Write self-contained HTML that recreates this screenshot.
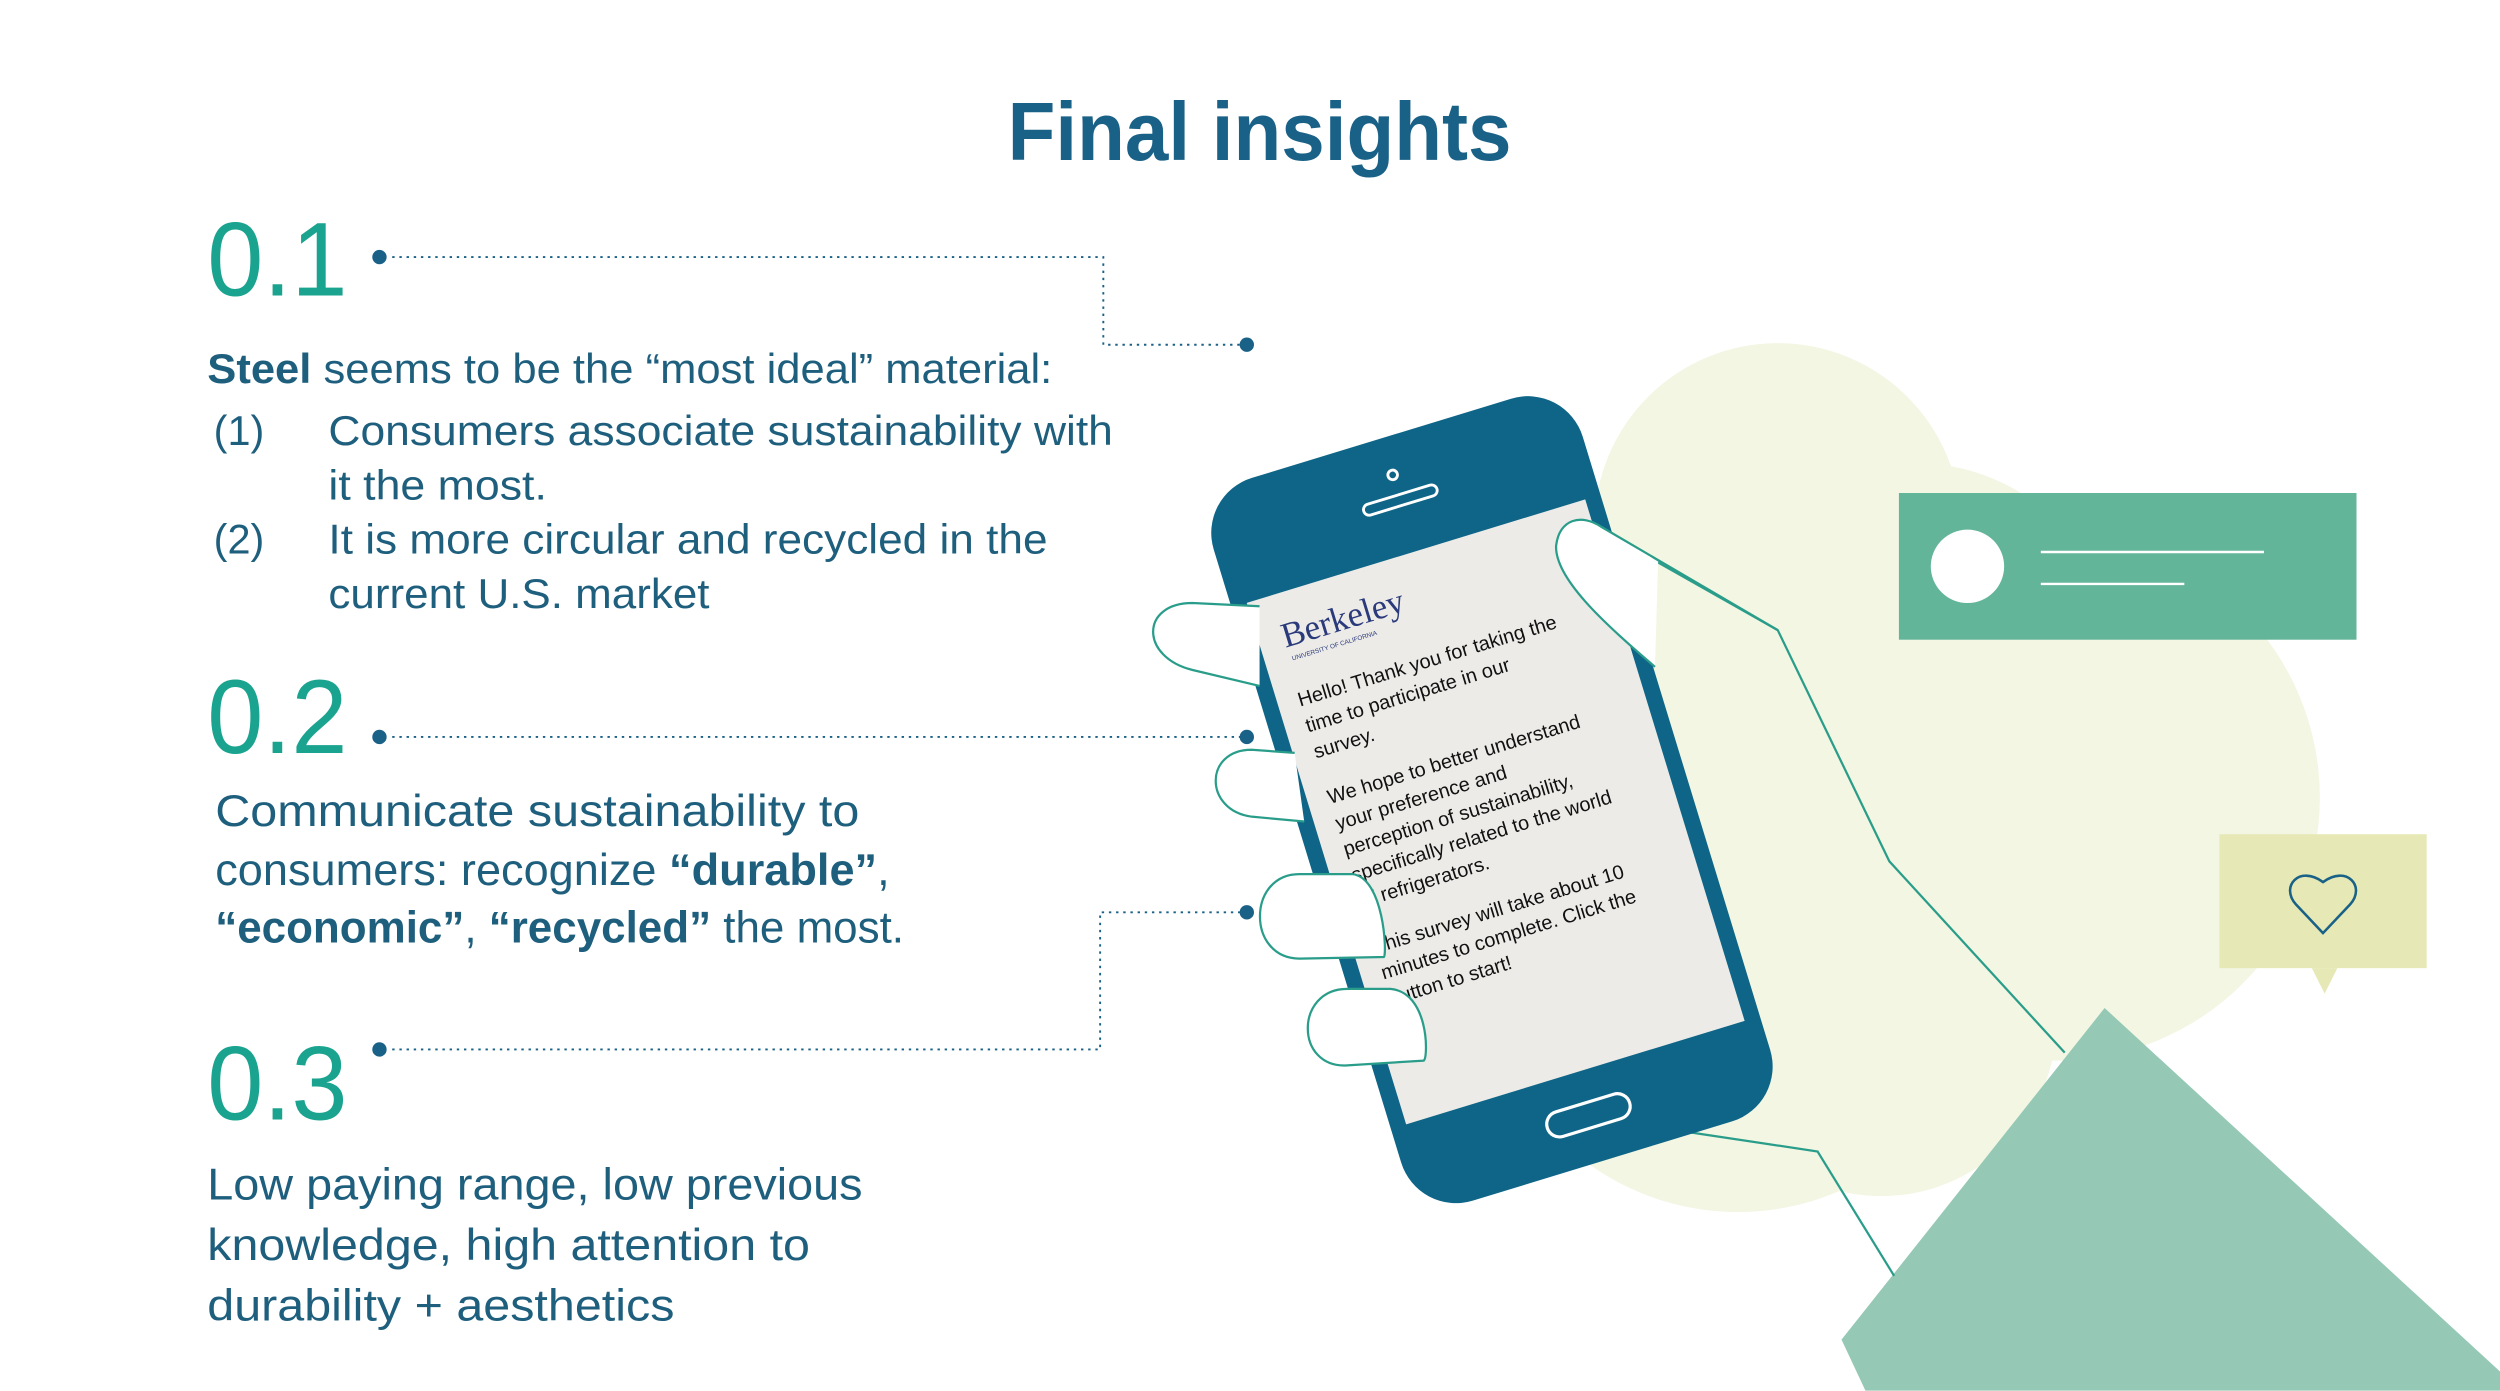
<!DOCTYPE html>
<html><head><meta charset="utf-8"><style>
html,body{margin:0;padding:0;background:#fff;}
svg{display:block;}
</style></head><body>
<svg width="2500" height="1391" viewBox="0 0 1568 872" xmlns="http://www.w3.org/2000/svg" font-family="Liberation Sans, sans-serif">
<rect width="1568" height="872" fill="#fff"/>
<g fill="#f2f6e2">
<circle cx="1115" cy="330" r="115"/>
<circle cx="1290" cy="500" r="165"/>
<circle cx="1090" cy="600" r="160"/>
<circle cx="1200" cy="420" r="130"/>
<circle cx="1180" cy="640" r="110"/>
<circle cx="1110" cy="460" r="110"/>
</g>
<polygon points="1155,840 1320,632 1568,860 1568,872 1170,872" fill="#95c8b5"/>
<rect x="1191" y="309" width="287" height="92" fill="#63b59a"/>
<circle cx="1234" cy="355" r="23" fill="#fff"/>
<line x1="1280" y1="346" x2="1420" y2="346" stroke="#fff" stroke-width="1.5"/>
<line x1="1280" y1="366" x2="1370" y2="366" stroke="#fff" stroke-width="1.5"/>
<rect x="1392" y="523" width="130" height="84" fill="#e6e9b5"/>
<polygon points="1450,607 1466,607 1458,623" fill="#e6e9b5"/>
<path d="M1457,585 L1440,567 C1430,556 1442,542 1457,553 C1472,542 1484,556 1474,567 Z" fill="none" stroke="#1a6187" stroke-width="1.6"/>
<path d="M1000,330 L1115,395 L1185,540 L1295,660" fill="none" stroke="#2a9d8a" stroke-width="1.4"/>
<path d="M1060,710 L1140,722 L1188,800" fill="none" stroke="#2a9d8a" stroke-width="1.4"/>
<g transform="rotate(-17 937 502)">
<rect x="815" y="264" width="242" height="474" rx="36" fill="#0e6587"/>
<rect x="825" y="338" width="222" height="342" fill="#ecebe8"/>
<circle cx="936" cy="288" r="3" fill="none" stroke="#fff" stroke-width="1.8"/>
<rect x="912" y="301" width="48" height="7" rx="3.5" fill="none" stroke="#fff" stroke-width="1.8"/>
<rect x="909" y="700" width="54" height="16" rx="8" fill="none" stroke="#fff" stroke-width="2"/>
<text x="840" y="372" style="font-family:'Liberation Serif',serif" font-size="22" fill="#2a3a7a">Berkeley</text>
<text x="842" y="381" font-size="4" fill="#2a3a7a">UNIVERSITY OF CALIFORNIA</text>
<g font-size="12.5" fill="#111">
<text x="838" y="410">Hello! Thank you for taking the</text>
<text x="838" y="427">time to participate in our</text>
<text x="838" y="444">survey.</text>
<text x="838" y="474">We hope to better understand</text>
<text x="838" y="491">your preference and</text>
<text x="838" y="508">perception of sustainability,</text>
<text x="838" y="525">specifically related to the world</text>
<text x="838" y="542">of refrigerators.</text>
<text x="838" y="572">This survey will take about 10</text>
<text x="838" y="589">minutes to complete. Click the</text>
<text x="838" y="606">button to start!</text>
</g>
</g>
<path d="M1038,418 C1005,390 975,362 976,342 C978,325 992,322 1004,330 L1040,352 Z" fill="#fff"/>
<path d="M1038,418 C1005,390 975,362 976,342 C978,325 992,322 1004,330 L1115,395" fill="none" stroke="#2a9d8a" stroke-width="1.4"/>
<g fill="#fff" stroke="#2a9d8a" stroke-width="1.4">
<path d="M790,430 L748,420 C715,412 715,378 748,378 L790,380"/>
<path d="M818,515 L785,512 C755,508 755,470 785,470 L812,472"/>
<path d="M868,600 L815,601 C782,601 782,548 815,548 L848,548 C868,550 870,598 868,600 Z"/>
<path d="M893,665 L845,668 C812,670 812,620 845,620 L872,620 C896,622 896,662 893,665 Z"/>
</g>
<text x="632" y="100" font-size="52" font-weight="bold" fill="#1a6187" textLength="316" lengthAdjust="spacingAndGlyphs">Final insights</text>
<g fill="none" stroke="#1a6187" stroke-width="1.2" stroke-dasharray="1.5 3">
<polyline points="246,161 692,161 692,216 780,216"/>
<polyline points="246,462 780,462"/>
<polyline points="246,658 690,658 690,572 780,572"/>
</g>
<g fill="#1a6187">
<circle cx="238" cy="161" r="4.5"/><circle cx="782" cy="216" r="4.5"/>
<circle cx="238" cy="462" r="4.5"/><circle cx="782" cy="462" r="4.5"/>
<circle cx="238" cy="658" r="4.5"/><circle cx="782" cy="572" r="4.5"/>
</g>
<g font-size="66" fill="#1aa38f">
<text x="130" y="185" textLength="88" lengthAdjust="spacingAndGlyphs">0.1</text>
<text x="130" y="472" textLength="88" lengthAdjust="spacingAndGlyphs">0.2</text>
<text x="130" y="702" textLength="88" lengthAdjust="spacingAndGlyphs">0.3</text>
</g>
<g fill="#1f5f7e" font-size="26">
<text x="130" y="240" textLength="530" lengthAdjust="spacingAndGlyphs"><tspan font-weight="bold">Steel</tspan> seems to be the “most ideal” material:</text>
<text x="134" y="279">(1)</text>
<text x="206" y="279" textLength="492" lengthAdjust="spacingAndGlyphs">Consumers associate sustainability with</text>
<text x="206" y="313" textLength="137" lengthAdjust="spacingAndGlyphs">it the most.</text>
<text x="134" y="347">(2)</text>
<text x="206" y="347" textLength="451" lengthAdjust="spacingAndGlyphs">It is more circular and recycled in the</text>
<text x="206" y="381" textLength="239" lengthAdjust="spacingAndGlyphs">current U.S. market</text>
</g>
<g fill="#1f5f7e" font-size="28">
<text x="135" y="518" textLength="404" lengthAdjust="spacingAndGlyphs">Communicate sustainability to</text>
<text x="135" y="555" textLength="423" lengthAdjust="spacingAndGlyphs">consumers: recognize <tspan font-weight="bold">“durable”</tspan>,</text>
<text x="135" y="591" textLength="432" lengthAdjust="spacingAndGlyphs"><tspan font-weight="bold">“economic”</tspan>, <tspan font-weight="bold">“recycled”</tspan> the most.</text>
<text x="130" y="752" textLength="411" lengthAdjust="spacingAndGlyphs">Low paying range, low previous</text>
<text x="130" y="790" textLength="378" lengthAdjust="spacingAndGlyphs">knowledge, high attention to</text>
<text x="130" y="828" textLength="293" lengthAdjust="spacingAndGlyphs">durability + aesthetics</text>
</g>
</svg>
</body></html>
